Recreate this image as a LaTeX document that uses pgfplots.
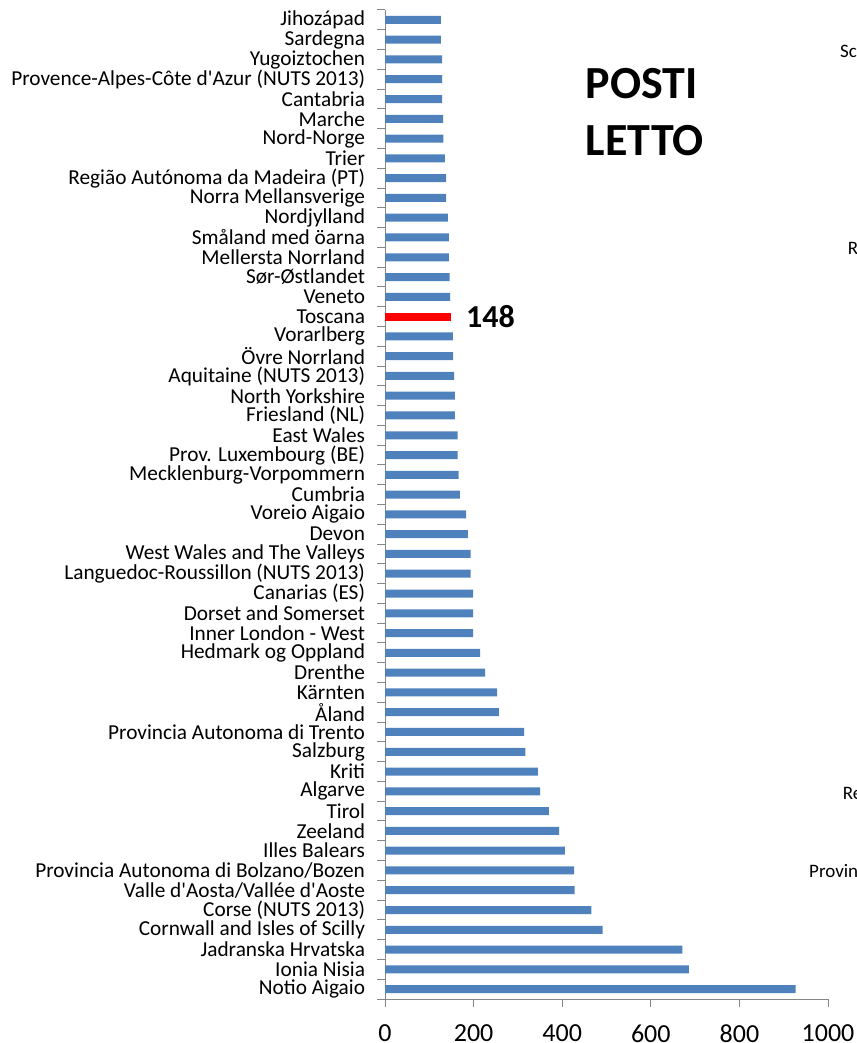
\documentclass[border=0pt]{standalone}
\usepackage{fontspec}
\setmainfont{Carlito}[Ligatures=TeXOff]
\usepackage{pgfplots}
\pgfplotsset{compat=1.18}
\definecolor{barblue}{HTML}{4F81BD}
\definecolor{axgray}{HTML}{868686}
\begin{document}
\begin{tikzpicture}
\useasboundingbox (0pt,0pt) rectangle (856pt,-1043pt);
\clip (0pt,0pt) rectangle (856pt,-1043pt);
\begin{axis}[
  at={(385pt,-999pt)}, anchor=south west,
  scale only axis, width=443pt, height=989pt,
  xmin=0, xmax=1000, ymin=-0.5, ymax=49.5,
  axis x line*=bottom, axis y line*=left,
  axis line style={axgray, line width=1pt},
  tick align=outside, major tick length=8pt,
  xtick={0,200,...,1000},
  xtick style={axgray, line width=1pt},
  ytick={0,...,49},
  ytick style={draw=none},
  extra y ticks={-0.5,0.5,...,49.5},
  extra y tick labels={},
  extra y tick style={ytick style={draw=axgray, line width=1pt}},
  yticklabels={Notio Aigaio,Ionia Nisia,Jadranska Hrvatska,Cornwall and Isles of Scilly,Corse (NUTS 2013),Valle d'Aosta/Vallée d'Aoste,Provincia Autonoma di Bolzano/Bozen,Illes Balears,Zeeland,Tirol,Algarve,Kriti,Salzburg,Provincia Autonoma di Trento,Åland,Kärnten,Drenthe,Hedmark og Oppland,Inner London - West,Dorset and Somerset,Canarias (ES),Languedoc-Roussillon (NUTS 2013),West Wales and The Valleys,Devon,Voreio Aigaio,Cumbria,Mecklenburg-Vorpommern,Prov. Luxembourg (BE),East Wales,Friesland (NL),North Yorkshire,Aquitaine (NUTS 2013),Övre Norrland,Vorarlberg,Toscana,Veneto,Sør-Østlandet,Mellersta Norrland,Småland med öarna,Nordjylland,Norra Mellansverige,Região Autónoma da Madeira (PT),Trier,Nord-Norge,Marche,Cantabria,Provence-Alpes-Côte d'Azur (NUTS 2013),Yugoiztochen,Sardegna,Jihozápad},
  yticklabel style={font=\fontsize{21.3}{21.3}\selectfont, anchor=east, inner sep=0pt, xshift=-11.8pt},
  xticklabel style={font=\fontsize{26}{26}\selectfont, inner sep=0pt, yshift=-17.3pt},
  /pgf/number format/assume math mode=true,
  /pgf/number format/set thousands separator={},
  xbar, bar width=8pt, bar shift=0pt,
]
\addplot[fill=barblue, draw=none] coordinates {
(927,0) (686,1) (671,2) (491,3) (466,4) (428,5) (427,6) (406,7) (393,8) (370,9)
(350,10) (345,11) (317,12) (314,13) (257,14) (253,15) (226,16) (215,17) (199,18) (199,19)
(199,20) (193,21) (193,22) (187,23) (183,24) (169,25) (166,26) (164,27) (164,28) (158,29)
(158,30) (156,31) (154,32) (153,33) (147,35) (146,36) (144,37) (144,38) (142,39)
(138,40) (138,41) (135,42) (132,43) (131,44) (129,45) (129,46) (129,47) (126,48) (126,49)
};
\addplot[fill=red, draw=none,
  nodes near coords={\fontsize{32}{32}\selectfont\bfseries 148},
  every node near coord/.append style={anchor=west, xshift=12pt, text=black}]
  coordinates {(148,34)};
\end{axis}
\node[anchor=base west, font=\fontsize{46}{46}\selectfont\bfseries, inner sep=0pt] at (585.7pt,-99pt) {POSTI};
\node[anchor=base west, font=\fontsize{46}{46}\selectfont\bfseries, inner sep=0pt] at (585.7pt,-156pt) {LETTO};
\node[anchor=base west, font=\fontsize{19}{19}\selectfont, inner sep=0pt] at (840pt,-58pt) {Scozia};
\node[anchor=base west, font=\fontsize{19}{19}\selectfont, inner sep=0pt] at (847.7pt,-254pt) {Regione};
\node[anchor=base west, font=\fontsize{19}{19}\selectfont, inner sep=0pt] at (842.7pt,-799pt) {Regione};
\node[anchor=base west, font=\fontsize{19}{19}\selectfont, inner sep=0pt] at (809pt,-877.7pt) {Provincia};
\end{tikzpicture}
\end{document}
